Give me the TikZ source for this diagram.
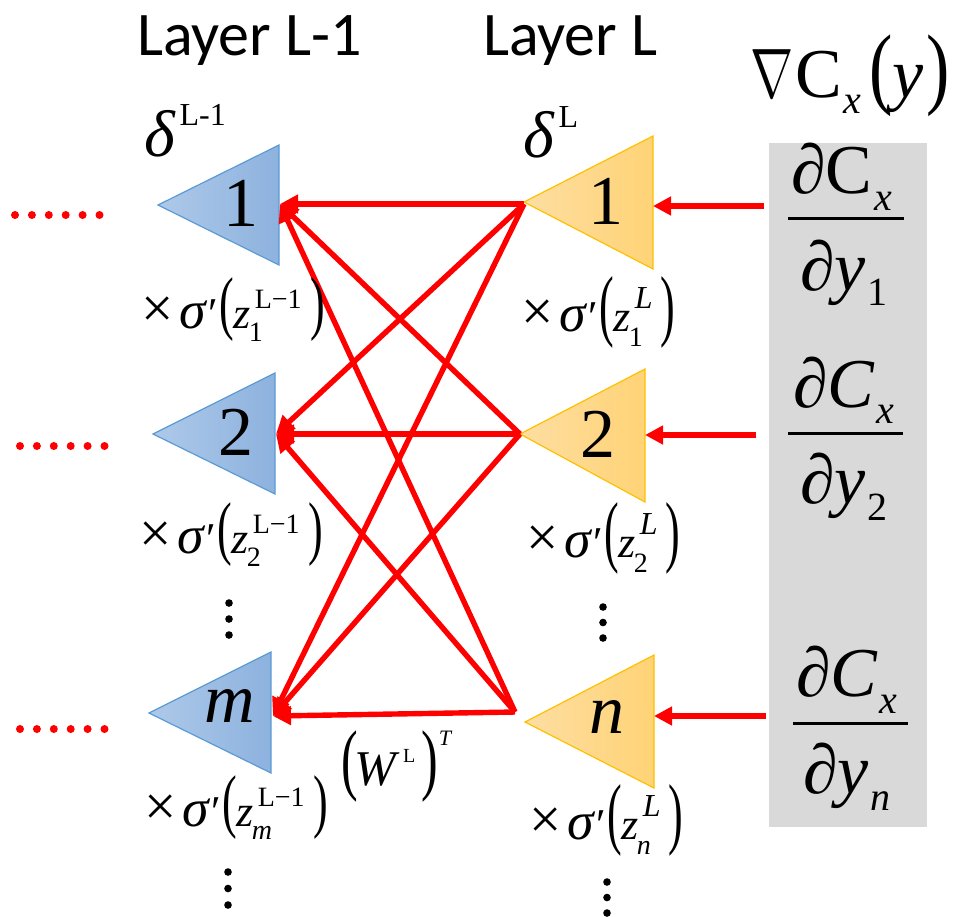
\RequirePackage{fix-cm}
\documentclass[tikz,border=0pt]{standalone}
\usepackage{fontspec}
\usepackage{graphicx}
\setmainfont{Liberation Serif}
\newfontfamily\calib{Carlito}
\usetikzlibrary{arrows.meta}
\definecolor{myred}{RGB}{255,0,0}
\definecolor{bluel}{RGB}{174,201,233}
\definecolor{blued}{RGB}{141,178,222}
\definecolor{blueb}{RGB}{91,155,213}
\definecolor{oral}{RGB}{253,222,162}
\definecolor{orad}{RGB}{255,211,118}
\definecolor{orab}{RGB}{255,192,0}
\definecolor{grayb}{RGB}{217,217,217}
\newcommand{\fs}[1]{\fontsize{#1}{#1}\selectfont}
\newcommand{\tms}{\raisebox{0.5pt}{\scalebox{1.3}{×}}}
% blue label: #1 sub, #2 sup
\newcommand{\bluelab}[2]{\fs{22}\tms\kern3pt\scalebox{1.22}{\textit{σ}}\kern0.3pt′\kern1pt\raisebox{1pt}{\scalebox{1}[1.6]{(}}\kern-0.3pt\textit{z}\kern-1pt\rlap{\raisebox{-6.5pt}{\fs{14}#1}}\kern3pt\raisebox{10pt}{\fs{14}#2}\kern4.5pt\raisebox{1pt}{\scalebox{1}[1.6]{)}}}
\newcommand{\oralab}[1]{\fs{22}\tms\kern3pt\scalebox{1.22}{\textit{σ}}\kern0.3pt′\kern1pt\raisebox{0pt}{\scalebox{1}[1.8]{(}}\kern-0.3pt\textit{z}\kern-1pt\rlap{\raisebox{-7.5pt}{\fs{14}#1}}\kern3pt\raisebox{11.5pt}{\fs{16}\textit{L}}\kern4pt\raisebox{0pt}{\scalebox{1}[1.8]{)}}}
\begin{document}
\begin{tikzpicture}[x=0.5pt,y=-0.5pt,
  redline/.style={draw=myred,line width=2.7pt,-{Triangle[length=9pt,width=9pt]}},
  bluetri/.style={left color=bluel,right color=blued,draw=blueb,line width=0.6pt},
  oratri/.style={left color=oral,right color=orad,draw=orab,line width=0.6pt},
  txt/.style={inner sep=0pt,outer sep=0pt},
  reddot/.style={fill=myred},
  blkdot/.style={fill=black},
  fracbar/.style={draw=black,line width=1.5pt}]
\useasboundingbox (0,0) rectangle (961,916);

% gray box
\fill[grayb] (769,143) rectangle (927,827);

% triangles
\shadedraw[bluetri] (158,205) -- (279,145) -- (279,265) -- cycle;
\shadedraw[bluetri] (153,434) -- (275,373) -- (275,494) -- cycle;
\shadedraw[bluetri] (149,713) -- (271,652) -- (271,773) -- cycle;
\shadedraw[oratri] (524,202) -- (653,136) -- (653,269) -- cycle;
\shadedraw[oratri] (520,434) -- (645,369) -- (645,502) -- cycle;
\shadedraw[oratri] (525,722) -- (654,655) -- (654,788) -- cycle;

% numbers
\node[txt,font=\fs{35}] (nb1) at (241,203) {1};
\node[txt,font=\fs{35}] (nb2) at (236,432) {2};
\node[txt,font=\fs{35}] (nbm) at (230,706) {\textit{m}};
\node[txt,font=\fs{35}] (no1) at (606,201) {1};
\node[txt,font=\fs{35}] (no2) at (598,434) {2};
\node[txt,font=\fs{35}] (non) at (607,717) {\textit{n}};

% connector end points
\coordinate (b1) at (280,204);
\coordinate (b2) at (276,434);
\coordinate (bm) at (273,716);
\coordinate (o1) at (524,204);
\coordinate (o2) at (520,434);
\coordinate (on) at (515,712);
\coordinate (g1) at (764,206);
\coordinate (g2) at (756,435);
\coordinate (gn) at (766,716);
\coordinate (t1) at (653,206);
\coordinate (t2) at (645,435);
\coordinate (tn) at (654,716);

\foreach \o in {o1,o2,on}{
  \foreach \b in {b1,b2,bm}{
    \draw[redline] (\o) -- (\b);
  }
}
\draw[redline] (g1) -- (t1);
\draw[redline] (g2) -- (t2);
\draw[redline] (gn) -- (tn);

% red dotted leaders
\foreach \i in {0,...,5}{
  \fill[reddot] (15+\i*16.9,215) circle (2pt);
  \fill[reddot] (20+\i*16.9,446) circle (2pt);
  \fill[reddot] (20+\i*16.9,729) circle (2pt);
}
% vertical ellipses
\foreach \i in {0,1,2}{
  \fill[blkdot] (229,603+\i*16) circle (1.9pt);
  \fill[blkdot] (228,872+\i*16.5) circle (1.9pt);
  \fill[blkdot] (603,607+\i*15.5) circle (1.9pt);
  \fill[blkdot] (607,882+\i*15.5) circle (1.9pt);
}

% titles
\node[txt,anchor=base west,font=\calib\fs{31}] (t-l1) at (137,55) {Layer L-1};
\node[txt,anchor=base west,font=\calib\fs{31}] (t-l) at (483,55) {Layer L};

% deltas
\node[txt,anchor=base west] (dl1) at (144,156) {\fs{33}\textit{δ}\kern2pt\raisebox{15.5pt}{\fs{16}L-1}};
\node[txt,anchor=base west] (dl) at (523,157) {\fs{33}\textit{δ}\kern2pt\raisebox{15pt}{\fs{16}L}};

% sigma labels
\node[txt,anchor=base west] (sb1) at (141,328) {\bluelab{1}{L−1}};
\node[txt,anchor=base west] (sb2) at (139,553) {\bluelab{2}{L−1}};
\node[txt,anchor=base west] (sbm) at (144,826) {\bluelab{\textit{m}}{L−1}};
\node[txt,anchor=base west] (so1) at (521,331) {\oralab{1}};
\node[txt,anchor=base west] (so2) at (526,557) {\oralab{2}};
\node[txt,anchor=base west] (son) at (529,839) {\oralab{\textit{n}}};

% (W^L)^T
\node[txt,anchor=base west] (wlt) at (341,785) {\fs{25}\scalebox{1}[1.58]{(}\kern-1.5pt\textit{W}\kern1.5pt\raisebox{11.5pt}{\fs{10}L}\kern3pt\scalebox{1}[1.58]{)}\kern0.5pt\raisebox{20pt}{\fs{11}\textit{T}}};

% gradient title
\node[txt,anchor=base west] (grad) at (750,97) {\fs{35}\scalebox{0.74}[1]{$\nabla$}\kern1pt C\kern1pt\raisebox{-8pt}{\fs{20}\textit{x}}\kern4pt\scalebox{1}[1.29]{(}\textit{y}\kern1pt\scalebox{1}[1.29]{)}};

% fractions
\node[txt,anchor=base west] (f1n) at (791,193) {\fs{35}∂C\kern1pt\raisebox{-8.5pt}{\fs{20}\textit{x}}};
\draw[fracbar] (788,218) -- (904,218);
\node[txt,anchor=base west] (f1d) at (800,290) {\fs{35}∂\textit{y}\kern1pt\raisebox{-7.5pt}{\fs{20}1}};

\node[txt,anchor=base west] (f2n) at (793,407) {\fs{35}∂\textit{C}\kern1pt\raisebox{-8pt}{\fs{20}\textit{x}}};
\draw[fracbar] (788,433) -- (903,433);
\node[txt,anchor=base west] (f2d) at (800,503) {\fs{35}∂\textit{y}\kern1pt\raisebox{-8.5pt}{\fs{20}2}};

\node[txt,anchor=base west] (fnn) at (796,696) {\fs{35}∂\textit{C}\kern1pt\raisebox{-8.5pt}{\fs{20}\textit{x}}};
\draw[fracbar] (793,723) -- (908,723);
\node[txt,anchor=base west] (fnd) at (803,793) {\fs{35}∂\textit{y}\kern1pt\raisebox{-8.5pt}{\fs{20}\textit{n}}};
\end{tikzpicture}
\end{document}
